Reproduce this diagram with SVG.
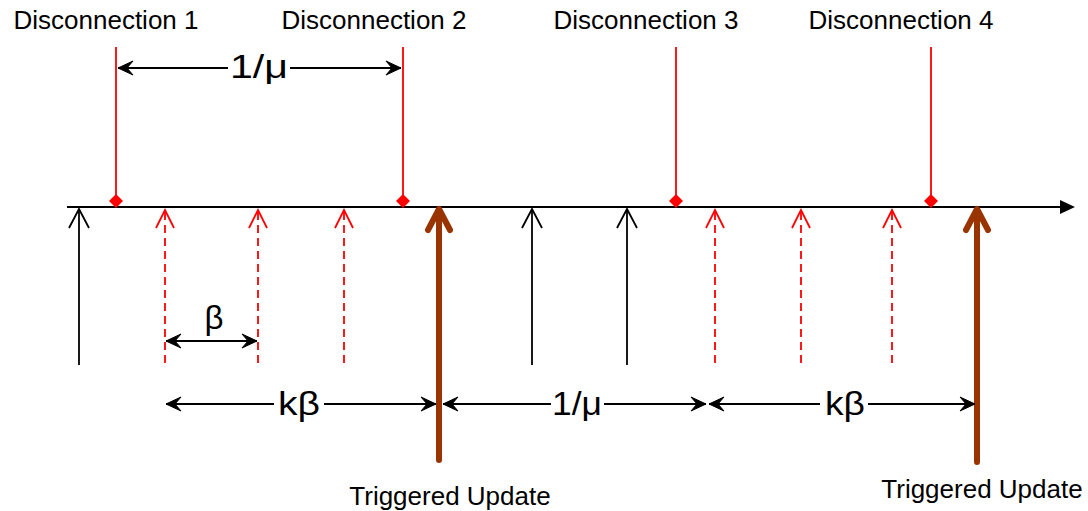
<svg xmlns="http://www.w3.org/2000/svg" width="1088" height="511" viewBox="0 0 1088 511">
  <style>
    text { font-family: "Liberation Sans", Arial, sans-serif; fill: #000; text-anchor: middle; }
    .label { font-size: 26px; }
    .update { font-size: 26px; }
    .sym { font-size: 33px; }
    .disc { stroke: #ff0000; stroke-width: 1.8; fill: none; }
    .tick { stroke: #000; stroke-width: 1.8; fill: none; }
    .retry { stroke: #ff0000; stroke-width: 1.8; fill: none; stroke-dasharray: 8 5; }
    .trig { stroke: #993300; stroke-width: 6; fill: none; stroke-linecap: round; stroke-linejoin: round; }
    .dim { stroke: #000; stroke-width: 2; fill: none; }
  </style>
  <defs>
    <marker id="dimhead" viewBox="-16 -8 17 16" refX="0" refY="0" markerWidth="17" markerHeight="16" markerUnits="userSpaceOnUse" orient="auto-start-reverse">
      <path d="M0,0 L-15,-7 L-9,0 L-15,7 Z" fill="#000" stroke="#000" stroke-width="1" stroke-linejoin="round"/>
    </marker>
  </defs>

  <rect width="1088" height="511" fill="#fff"/>

  <!-- time axis -->
  <g id="axis">
    <line x1="67" y1="207" x2="1062" y2="207" stroke="#000" stroke-width="2"/>
    <polygon points="1060,200 1075,207 1060,214" fill="#000"/>
  </g>

  <!-- disconnection events -->
  <g id="disconnection-1">
    <text class="label" x="106" y="29">Disconnection 1</text>
    <line class="disc" x1="116" y1="47" x2="116" y2="200"/>
    <polygon points="116,194 123,201 116,208 109,201" fill="#ff0000"/>
  </g>
  <g id="disconnection-2">
    <text class="label" x="374" y="29">Disconnection 2</text>
    <line class="disc" x1="403" y1="47" x2="403" y2="200"/>
    <polygon points="403,194 410,201 403,208 396,201" fill="#ff0000"/>
  </g>
  <g id="disconnection-3">
    <text class="label" x="646" y="29">Disconnection 3</text>
    <line class="disc" x1="676" y1="47" x2="676" y2="200"/>
    <polygon points="676,194 683,201 676,208 669,201" fill="#ff0000"/>
  </g>
  <g id="disconnection-4">
    <text class="label" x="901" y="29">Disconnection 4</text>
    <line class="disc" x1="931" y1="47" x2="931" y2="200"/>
    <polygon points="931,194 938,201 931,208 924,201" fill="#ff0000"/>
  </g>

  <!-- periodic updates -->
  <g id="update-1">
    <line class="tick" x1="79" y1="209" x2="79" y2="365"/>
    <polyline class="tick" points="69,228 79,209 89,228"/>
  </g>
  <g id="update-2">
    <line class="tick" x1="532" y1="209" x2="532" y2="365"/>
    <polyline class="tick" points="522,228 532,209 542,228"/>
  </g>
  <g id="update-3">
    <line class="tick" x1="627" y1="209" x2="627" y2="365"/>
    <polyline class="tick" points="617,228 627,209 637,228"/>
  </g>

  <!-- suppressed updates -->
  <g id="retry-1">
    <line class="retry" x1="165" y1="212" x2="165" y2="365"/>
    <polyline class="disc" points="156,228 165,210 174,228"/>
  </g>
  <g id="retry-2">
    <line class="retry" x1="258" y1="212" x2="258" y2="365"/>
    <polyline class="disc" points="249,228 258,210 267,228"/>
  </g>
  <g id="retry-3">
    <line class="retry" x1="344" y1="212" x2="344" y2="365"/>
    <polyline class="disc" points="335,228 344,210 353,228"/>
  </g>
  <g id="retry-4">
    <line class="retry" x1="715" y1="212" x2="715" y2="365"/>
    <polyline class="disc" points="706,228 715,210 724,228"/>
  </g>
  <g id="retry-5">
    <line class="retry" x1="801" y1="212" x2="801" y2="365"/>
    <polyline class="disc" points="792,228 801,210 810,228"/>
  </g>
  <g id="retry-6">
    <line class="retry" x1="892" y1="212" x2="892" y2="365"/>
    <polyline class="disc" points="883,228 892,210 901,228"/>
  </g>

  <!-- triggered updates -->
  <g id="triggered-1">
    <line class="trig" x1="439" y1="212" x2="439" y2="460"/>
    <polyline class="trig" points="428,230 439,209 450,230"/>
    <text class="update" x="450" y="505">Triggered Update</text>
  </g>
  <g id="triggered-2">
    <line class="trig" x1="977" y1="212" x2="977" y2="462"/>
    <polyline class="trig" points="966,230 977,209 988,230"/>
    <text class="update" x="982" y="498">Triggered Update</text>
  </g>

  <!-- interval dimensions -->
  <g id="connectors">
    <line class="dim" x1="118" y1="68" x2="228" y2="68" marker-start="url(#dimhead)"/>
    <line class="dim" x1="290" y1="68" x2="401" y2="68" marker-end="url(#dimhead)"/>
    <text class="sym" x="259" y="78" textLength="58" lengthAdjust="spacingAndGlyphs">1/μ</text>

    <line class="dim" x1="166" y1="341" x2="257" y2="341" marker-start="url(#dimhead)" marker-end="url(#dimhead)"/>
    <text class="sym" x="214" y="329">β</text>

    <line class="dim" x1="166" y1="404" x2="274" y2="404" marker-start="url(#dimhead)"/>
    <line class="dim" x1="324" y1="404" x2="436" y2="404" marker-end="url(#dimhead)"/>
    <text class="sym" x="299" y="415" textLength="42" lengthAdjust="spacingAndGlyphs">kβ</text>

    <line class="dim" x1="443" y1="404" x2="551" y2="404" marker-start="url(#dimhead)"/>
    <line class="dim" x1="604" y1="404" x2="706" y2="404" marker-end="url(#dimhead)"/>
    <text class="sym" x="577" y="415" textLength="50" lengthAdjust="spacingAndGlyphs">1/μ</text>

    <line class="dim" x1="709" y1="404" x2="820" y2="404" marker-start="url(#dimhead)"/>
    <line class="dim" x1="868" y1="404" x2="975" y2="404" marker-end="url(#dimhead)"/>
    <text class="sym" x="845" y="415" textLength="40" lengthAdjust="spacingAndGlyphs">kβ</text>
  </g>
</svg>
